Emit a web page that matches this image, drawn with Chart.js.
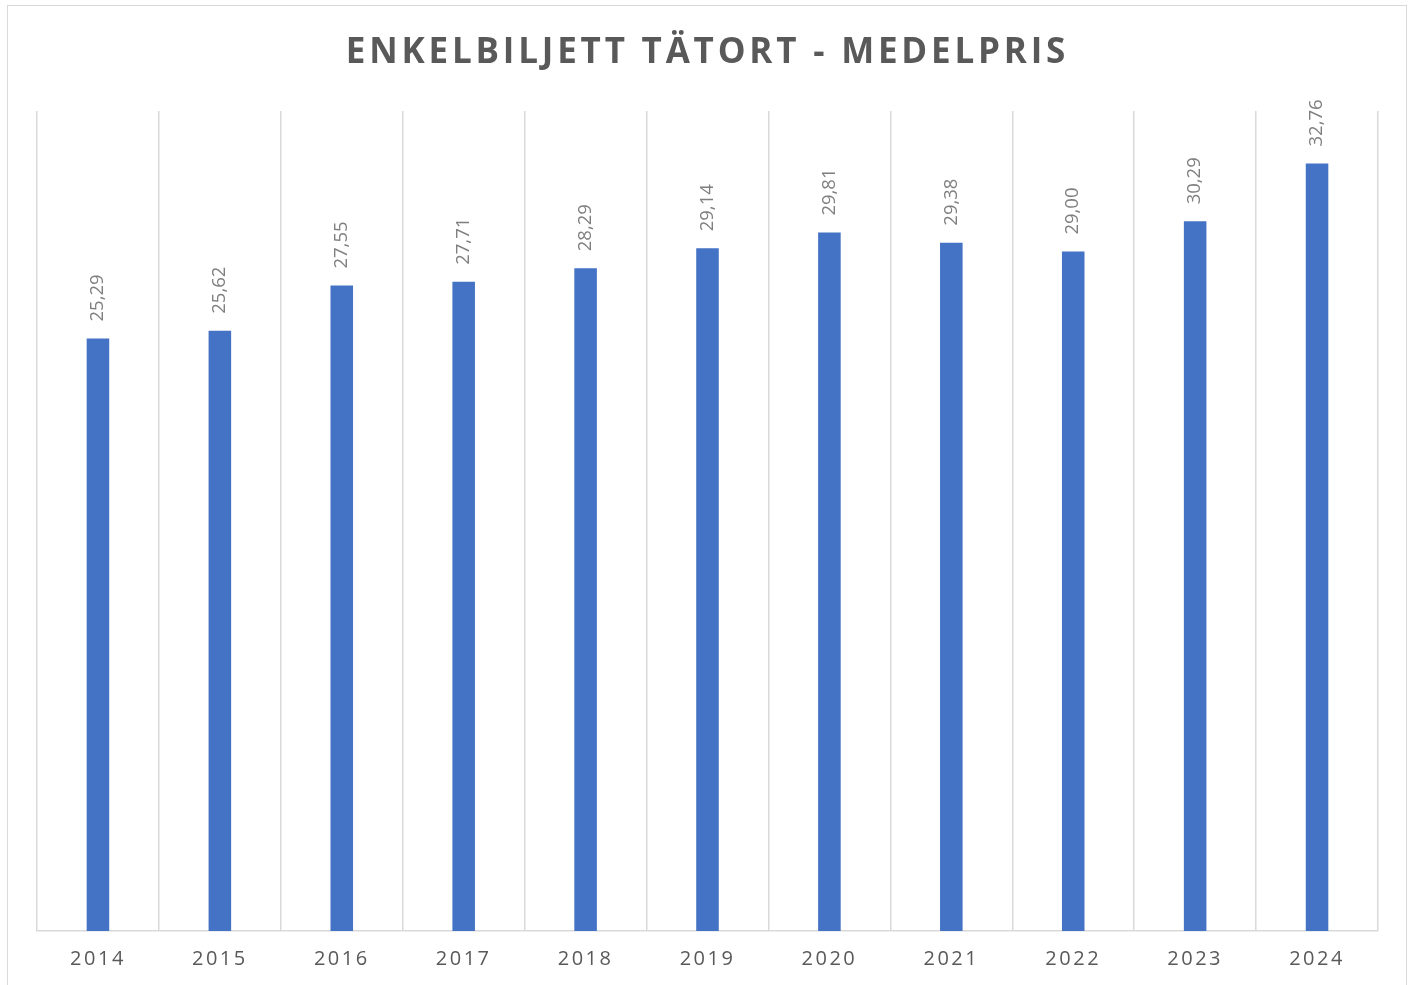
<!DOCTYPE html>
<html lang="sv">
<head>
  <meta charset="UTF-8">
  <title>Enkelbiljett tätort - medelpris</title>
  <script src="https://cdn.jsdelivr.net/npm/chart.js"></script>
  <style>
    body {
      margin: 0;
      background: #ffffff;
      overflow: hidden;
    }
    /* light frame around the chart, like the office chart area */
    .frame {
      position: absolute;
      left: 7px;
      top: 5px;
      width: 1398px;
      height: 1000px;
      border: 1.5px solid #d9d9d9;
    }
    .chart-container {
      position: absolute;
      left: 0;
      top: 0;
      width: 1413px;
      height: 985px;
    }
  </style>
</head>
<body>

<div class="frame"></div>
<div class="chart-container">
  <canvas id="priceChart" width="1413" height="985"></canvas>
</div>

<script>
  // Data
  const years = ['2014', '2015', '2016', '2017', '2018', '2019', '2020', '2021', '2022', '2023', '2024'];
  const avgPrice = [25.29, 25.62, 27.55, 27.71, 28.29, 29.14, 29.81, 29.38, 29.00, 30.29, 32.76];

  // wider letter spacing for the axis labels
  const spacingPlugin = {
    id: 'spacing',
    beforeDraw(chart) {
      chart.ctx.letterSpacing = '2.5px';
    }
  };

  // title is drawn here to get wider letter spacing than the ticks
  const titleSpacing = {
    id: 'titleSpacing',
    afterDraw(chart) {
      const ctx = chart.ctx;
      ctx.save();
      ctx.letterSpacing = '3.8px';
      ctx.font = 'bold 35px "Open Sans", sans-serif';
      ctx.fillStyle = '#595959';
      ctx.textAlign = 'center';
      ctx.textBaseline = 'middle';
      ctx.fillText('ENKELBILJETT TÄTORT - MEDELPRIS', chart.width / 2 + 1, 53.5);
      ctx.restore();
    }
  };

  // rotated value labels above each bar
  const valueLabels = {
    id: 'valueLabels',
    afterDatasetsDraw(chart) {
      const ctx = chart.ctx;
      const meta = chart.getDatasetMeta(0);
      ctx.save();
      ctx.letterSpacing = '0px';
      ctx.font = '18.5px "Open Sans", sans-serif';
      ctx.fillStyle = '#7f7f7f';
      ctx.textAlign = 'left';
      ctx.textBaseline = 'middle';
      meta.data.forEach((bar, i) => {
        const txt = avgPrice[i].toFixed(2).replace('.', ',');
        ctx.save();
        ctx.translate(bar.x, bar.y - 17);
        ctx.rotate(-Math.PI / 2);
        ctx.fillText(txt, 0, 0);
        ctx.restore();
      });
      ctx.restore();
    }
  };

  const ctx = document.getElementById('priceChart').getContext('2d');
  new Chart(ctx, {
    type: 'bar',
    data: {
      labels: years,
      datasets: [{
        label: 'Medelpris',
        data: avgPrice,
        backgroundColor: '#4472c4',
        borderWidth: 0,
        barPercentage: 0.185,
        categoryPercentage: 1
      }]
    },
    options: {
      responsive: false,
      animation: false,
      layout: {
        padding: { left: 37, right: 35, top: 111, bottom: 14 }
      },
      scales: {
        x: {
          afterFit(scale) {
            scale.height = 40;
          },
          grid: {
            display: true,
            offset: true,
            color: '#d9d9d9',
            lineWidth: 1.5,
            drawTicks: false
          },
          border: { display: true, color: '#d9d9d9', width: 1.5 },
          ticks: {
            color: '#595959',
            font: { family: '"Open Sans", sans-serif', size: 20 },
            padding: 16
          }
        },
        y: {
          display: false,
          min: 0,
          max: 35
        }
      },
      plugins: {
        legend: { display: false },
        tooltip: { enabled: false },
        title: { display: false }
      }
    },
    plugins: [spacingPlugin, valueLabels, titleSpacing]
  });
</script>

</body>
</html>
